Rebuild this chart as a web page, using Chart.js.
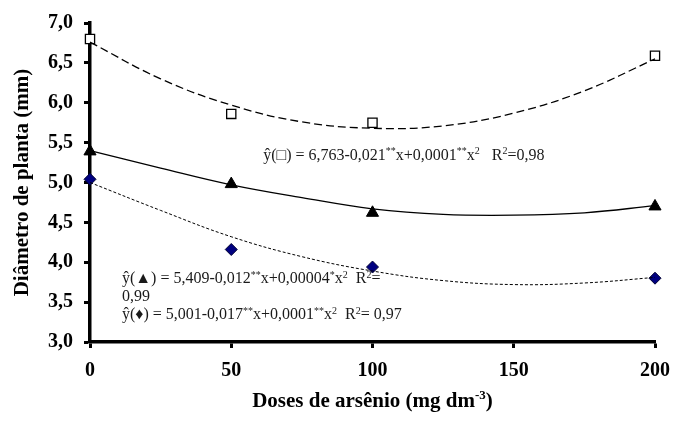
<!DOCTYPE html>
<html>
<head>
<meta charset="utf-8">
<script src="https://cdn.jsdelivr.net/npm/chart.js@4.4.1/dist/chart.umd.min.js"></script>
<style>
  html, body { margin: 0; padding: 0; background: #ffffff; }
  #wrap { width: 690px; height: 421px; position: relative; }
</style>
</head>
<body>
<div id="wrap"><canvas id="c" width="690" height="421"></canvas></div>
<script>
// ---- data ----
const doses = [0, 50, 100, 200];
const squareObs = [6.80, 5.86, 5.75, 6.59];
const triangleObs = [5.39, 4.98, 4.62, 4.70];
const diamondObs = [5.04, 4.16, 3.94, 3.80];

const fitDoses = [0, 25, 50, 75, 100, 125, 150, 175, 200];
const squareFit = [6.76, 6.30, 5.97, 5.76, 5.68, 5.71, 5.87, 6.15, 6.55];
const triangleFit = [5.40, 5.18, 4.97, 4.81, 4.67, 4.60, 4.59, 4.62, 4.71];
const diamondFit = [5.00, 4.65, 4.32, 4.07, 3.89, 3.77, 3.72, 3.74, 3.81];

const xTickLabels = ['0', '50', '100', '150', '200'];
const yTickLabels = ['3,0', '3,5', '4,0', '4,5', '5,0', '5,5', '6,0', '6,5', '7,0'];

const yTitle = 'Diâmetro de planta (mm)';
const xTitle = [['Doses de arsênio (mg dm'], ['-3', 1], [')']];

const eqSquare = [['ŷ(□) = 6,763-0,021'], ['**', 1], ['x+0,0001'], ['**', 1], ['x'], ['2', 1], ['   R'], ['2', 1], ['=0,98']];
const eqTriangleA = [['ŷ(▲) = 5,409-0,012'], ['**', 1], ['x+0,00004'], ['*', 1], ['x'], ['2', 1], ['  R'], ['2', 1], ['=']];
const eqTriangleB = [['0,99']];
const eqDiamond = [['ŷ(♦) = 5,001-0,017'], ['**', 1], ['x+0,0001'], ['**', 1], ['x'], ['2', 1], ['  R'], ['2', 1], ['= 0,97']];

function pts(xs, ys) { return xs.map((x, i) => ({ x: x, y: ys[i] })); }

const SERIF = "'Liberation Serif', 'Times New Roman', serif";

function richWidth(ctx, runs, size, weight) {
  let w = 0;
  runs.forEach(r => {
    const sup = r[1] === 1;
    const s = sup ? Math.round(size * 0.62) : size;
    ctx.font = weight + ' ' + s + 'px ' + SERIF;
    w += ctx.measureText(r[0]).width;
  });
  return w;
}

function drawRich(ctx, x, y, runs, size, weight) {
  weight = weight || 'normal';
  let cx = x;
  runs.forEach(r => {
    const sup = r[1] === 1;
    const s = sup ? Math.round(size * 0.62) : size;
    ctx.font = weight + ' ' + s + 'px ' + SERIF;
    ctx.fillText(r[0], cx, sup ? y - size * 0.36 : y);
    cx += ctx.measureText(r[0]).width;
  });
}

const equationPlugin = {
  id: 'equations',
  afterDatasetsDraw(chart) {
    const ctx = chart.ctx;
    const xs = chart.scales.x, ys = chart.scales.y;
    ctx.save();
    ctx.fillStyle = '#1a1a1a';
    ctx.textBaseline = 'alphabetic';
    ctx.textAlign = 'left';
    const size = 16;
    drawRich(ctx, xs.getPixelForValue(61.3), ys.getPixelForValue(5.28), eqSquare, size);
    const x2 = xs.getPixelForValue(11.3);
    const y2 = ys.getPixelForValue(3.735);
    drawRich(ctx, x2, y2, eqTriangleA, size);
    drawRich(ctx, x2, y2 + 18, eqTriangleB, size);
    drawRich(ctx, x2, y2 + 36, eqDiamond, size);

    // x axis title with superscript
    ctx.fillStyle = '#000';
    const tSize = 21;
    const w = richWidth(ctx, xTitle, tSize, 'bold');
    const cx = (chart.chartArea.left + chart.chartArea.right) / 2;
    drawRich(ctx, cx - w / 2, chart.height - 14, xTitle, tSize, 'bold');
    ctx.restore();
  }
};

new Chart(document.getElementById('c'), {
  type: 'scatter',
  data: {
    datasets: [
      { data: pts(fitDoses, squareFit), showLine: true, borderColor: '#000', borderWidth: 1.3,
        borderDash: [8, 4], pointRadius: 0, tension: 0.4, clip: false },
      { data: pts(fitDoses, triangleFit), showLine: true, borderColor: '#000', borderWidth: 1.3,
        pointRadius: 0, tension: 0.4, clip: false },
      { data: pts(fitDoses, diamondFit), showLine: true, borderColor: '#000', borderWidth: 1,
        borderDash: [3, 2], pointRadius: 0, tension: 0.4, clip: false },
      { data: pts(doses, squareObs), pointStyle: 'rect', pointRadius: 6.5, backgroundColor: '#fff',
        borderColor: '#000', borderWidth: 1.3, clip: false },
      { data: pts(doses, triangleObs), pointStyle: 'triangle', pointRadius: 7, backgroundColor: '#000',
        borderColor: '#000', borderWidth: 1, clip: false },
      { data: pts(doses, diamondObs), pointStyle: 'rectRot', pointRadius: 6, backgroundColor: '#000080',
        borderColor: '#000033', borderWidth: 1, clip: false }
    ]
  },
  options: {
    responsive: false,
    animation: false,
    events: [],
    layout: { padding: { left: 0, right: 35, top: 21, bottom: 0 } },
    plugins: { legend: { display: false }, tooltip: { enabled: false } },
    scales: {
      x: {
        type: 'linear', min: 0, max: 200,
        afterFit(s) { s.height = 79; },
        afterBuildTicks(s) { s.ticks = xTickLabels.map(t => ({ value: Number(t) })); },
        ticks: {
          color: '#000', padding: 11,
          font: { family: SERIF, size: 20, weight: 'bold' },
          callback: (v, i) => xTickLabels[i]
        },
        grid: { display: true, drawOnChartArea: false, drawTicks: true, tickLength: 6,
                tickWidth: 3, tickColor: '#000' },
        border: { display: true, color: '#000', width: 3.5 },
        title: { display: false }
      },
      y: {
        type: 'linear', min: 3, max: 7,
        afterFit(s) { s.width = 90; },
        ticks: {
          stepSize: 0.5, color: '#000', padding: 11,
          font: { family: SERIF, size: 20, weight: 'bold' },
          callback: (v, i) => yTickLabels[i]
        },
        grid: { display: true, drawOnChartArea: false, drawTicks: true, tickLength: 6,
                tickWidth: 3, tickColor: '#000' },
        border: { display: true, color: '#000', width: 3.5 },
        title: { display: true, text: yTitle, color: '#000',
                 font: { family: SERIF, size: 21, weight: 'bold' }, padding: { top: 10, bottom: 0 } }
      }
    }
  },
  plugins: [equationPlugin]
});
</script>
</body>
</html>
